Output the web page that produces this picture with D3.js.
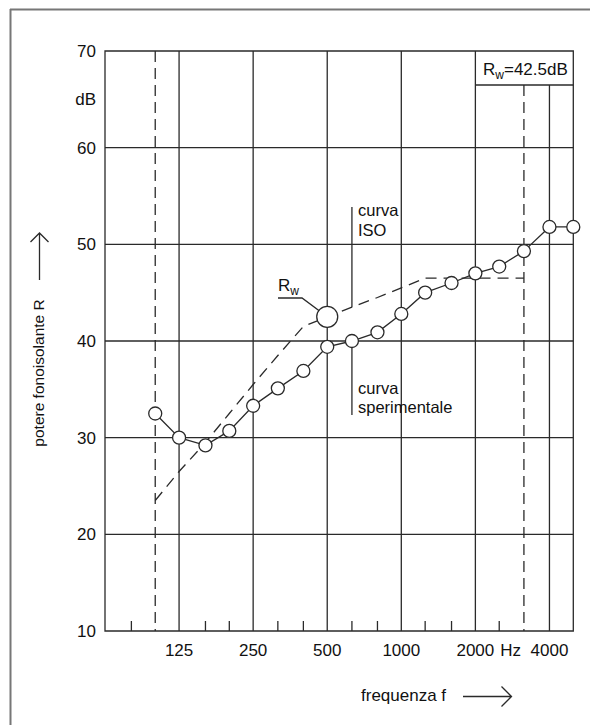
<!DOCTYPE html>
<html><head><meta charset="utf-8">
<script src="https://cdn.jsdelivr.net/npm/d3@7"></script>
<style>
html,body{margin:0;padding:0;background:#fff;}
svg text{font-family:"Liberation Sans",Arial,sans-serif;fill:#111;}
</style></head>
<body><svg id="c" width="590" height="725"></svg>
<script>
// ---- data ----
const freqs = [100,125,160,200,250,315,400,500,630,800,1000,1250,1600,2000,2500,3150,4000,5000];
const measured = [32.5,30.0,29.2,30.7,33.3,35.1,36.9,39.4,40.0,40.9,42.8,45.0,46.0,47.0,47.7,49.3,51.8,51.8];
const isoFreqs = [100,125,160,200,250,315,400,500,630,800,1000,1250,1600,2000,2500,3150];
const isoValues = [23.5,26.5,29.5,32.5,35.5,38.5,41.5,42.5,43.5,44.5,45.5,46.5,46.5,46.5,46.5,46.5];
const Rw = 42.5, RwFreq = 500;
const xTickLabels = [125,250,500,1000,2000,4000];
const xMinorTicks = [80,160,200,315,400,630,800,1250,1600,2500];
const xDashed = [100,3150];
const yTicks = [10,20,30,40,50,60,70];

const svg = d3.select("#c");
const x = d3.scaleLog().domain([62.5,5000]).range([105,573.3]);
const y = d3.scaleLinear().domain([10,70]).range([631,51]);
const line = "#2a2a2a";

// outer frame (only top and left visible)
svg.append("line").attr("x1",10).attr("x2",590).attr("y1",9.5).attr("y2",9.5).attr("stroke","#777").attr("stroke-width",2);
svg.append("line").attr("x1",10.5).attr("x2",10.5).attr("y1",9).attr("y2",725).attr("stroke","#777").attr("stroke-width",2);

const g = svg.append("g");
const boxBottom = 85;

// horizontal grid
g.selectAll(".hg").data(yTicks.slice(1,-1)).join("line")
  .attr("x1",x(62.5)).attr("x2",x(5000)).attr("y1",d=>y(d)).attr("y2",d=>y(d))
  .attr("stroke",line).attr("stroke-width",1.3);
// vertical grid
g.selectAll(".vg").data(xTickLabels).join("line")
  .attr("x1",d=>x(d)).attr("x2",d=>x(d)).attr("y1",d=>d>2000?boxBottom:y(70)).attr("y2",y(10))
  .attr("stroke",line).attr("stroke-width",1.3);
// dashed verticals
g.selectAll(".vd").data(xDashed).join("line")
  .attr("x1",d=>x(d)).attr("x2",d=>x(d)).attr("y1",d=>d>2000?boxBottom:y(70)).attr("y2",y(10))
  .attr("stroke",line).attr("stroke-width",1.3).attr("stroke-dasharray","11,6");
// plot border
g.append("path").attr("d",`M${x(62.5)},${y(10)}V${y(70)}H${x(5000)}V${y(10)}Z`)
  .attr("fill","none").attr("stroke",line).attr("stroke-width",1.3);
// minor ticks
g.selectAll(".mt").data(xMinorTicks).join("line")
  .attr("x1",d=>x(d)).attr("x2",d=>x(d)).attr("y1",y(10)).attr("y2",y(10)-10)
  .attr("stroke",line).attr("stroke-width",1.3);
// Rw box
g.append("line").attr("x1",x(2000)).attr("x2",x(5000)).attr("y1",boxBottom).attr("y2",boxBottom)
  .attr("stroke",line).attr("stroke-width",1.3);
const rb = g.append("text").attr("x",483).attr("y",75).attr("font-size",17);
rb.append("tspan").text("R");
rb.append("tspan").attr("font-size",12).attr("dy",4).text("w");
rb.append("tspan").attr("dy",-4).text("=42.5dB");

// y labels
g.selectAll(".yl").data(yTicks).join("text")
  .attr("x",96).attr("y",d=>y(d)).attr("dy","0.36em").attr("text-anchor","end")
  .attr("font-size",17).text(d=>d);
g.append("text").attr("x",96).attr("y",y(65)).attr("dy","0.36em").attr("text-anchor","end")
  .attr("font-size",17).text("dB");
// x labels
g.selectAll(".xl").data(xTickLabels).join("text")
  .attr("x",d=>x(d)).attr("y",656).attr("text-anchor","middle").attr("font-size",17).text(d=>d);
g.append("text").attr("x",x(2780)).attr("y",656).attr("text-anchor","middle").attr("font-size",17).text("Hz");

// ISO curve
g.append("path").datum(isoFreqs.map((f,i)=>[f,isoValues[i]]))
  .attr("d",d3.line().x(d=>x(d[0])).y(d=>y(d[1])))
  .attr("fill","none").attr("stroke",line).attr("stroke-width",1.3).attr("stroke-dasharray","11,7");

// leaders
g.append("line").attr("x1",x(630)).attr("x2",x(630)).attr("y1",207).attr("y2",y(43.5))
  .attr("stroke",line).attr("stroke-width",1.3);
g.append("line").attr("x1",x(630)).attr("x2",x(630)).attr("y1",y(40)).attr("y2",415)
  .attr("stroke",line).attr("stroke-width",1.3);
g.append("text").attr("x",358).attr("y",216).attr("font-size",16.5).text("curva");
g.append("text").attr("x",358).attr("y",236).attr("font-size",16.5).text("ISO");
g.append("text").attr("x",358).attr("y",394).attr("font-size",16.5).text("curva");
g.append("text").attr("x",358).attr("y",413).attr("font-size",16.5).text("sperimentale");

// Rw label with leader
g.append("path").attr("d",`M278,298H302L${x(RwFreq)},${y(Rw)}`)
  .attr("fill","none").attr("stroke",line).attr("stroke-width",1.3);
const rl = g.append("text").attr("x",278).attr("y",291).attr("font-size",17);
rl.append("tspan").text("R");
rl.append("tspan").attr("font-size",12).attr("dy",4).text("w");

// measured curve
g.append("path").datum(freqs.map((f,i)=>[f,measured[i]]))
  .attr("d",d3.line().x(d=>x(d[0])).y(d=>y(d[1])))
  .attr("fill","none").attr("stroke",line).attr("stroke-width",1.3);
g.selectAll(".pt").data(freqs.map((f,i)=>[f,measured[i]])).join("circle")
  .attr("cx",d=>x(d[0])).attr("cy",d=>y(d[1])).attr("r",6.5)
  .attr("fill","#fff").attr("stroke",line).attr("stroke-width",1.3);
// Rw point
g.append("circle").attr("cx",x(RwFreq)).attr("cy",y(Rw)).attr("r",10.5)
  .attr("fill","#fff").attr("stroke",line).attr("stroke-width",1.3);

// axis titles
g.append("text").attr("transform","translate(44,373) rotate(-90)").attr("text-anchor","middle")
  .attr("font-size",15.5).text("potere fonoisolante R");
g.append("path").attr("d","M39.5,280V233M30.5,242L39.5,233L48.5,242")
  .attr("fill","none").attr("stroke",line).attr("stroke-width",1.3);
g.append("text").attr("x",361).attr("y",701).attr("font-size",17).text("frequenza f");
g.append("path").attr("d","M463,696.5H511.5M501.5,686.5L511.5,696.5L501.5,706.5")
  .attr("fill","none").attr("stroke",line).attr("stroke-width",1.3);
</script></body></html>
